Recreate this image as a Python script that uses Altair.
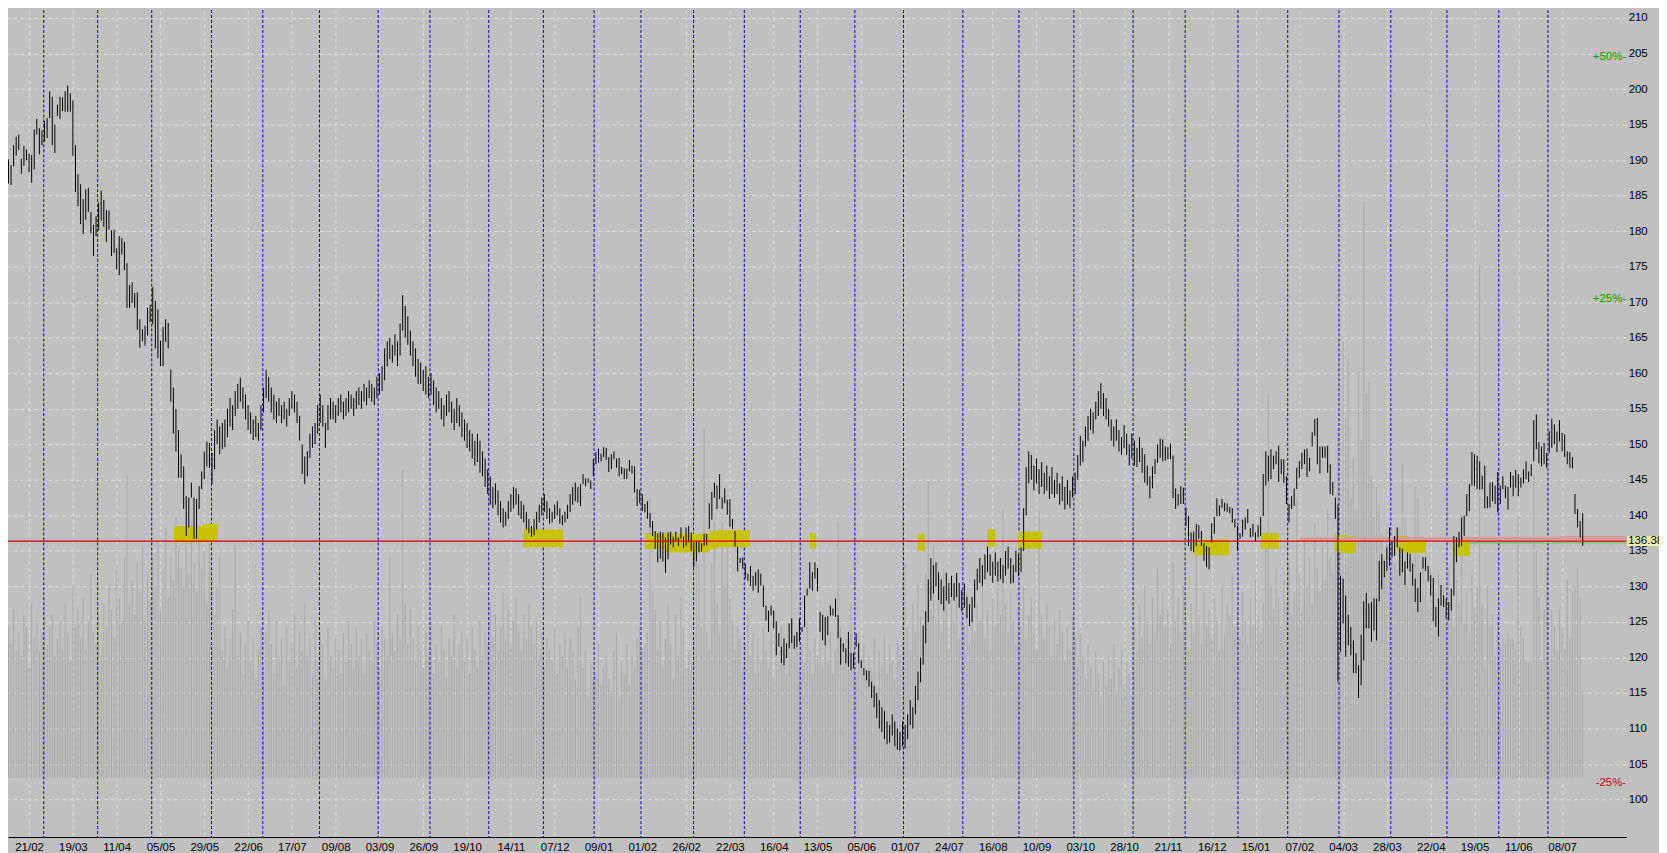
import altair as alt
import pandas as pd

# ---------------- data ----------------
highs = [
    191.0,191.0,190.8,190.1,189.3,192.1,193.3,193.6,190.2,192.0,
    191.5,190.9,190.7,194.3,195.8,194.5,194.2,195.5,195.9,199.7,
    198.9,195.0,197.8,198.9,198.8,199.7,200.5,199.4,198.4,192.1,
    188.0,186.6,184.5,185.9,186.1,182.7,180.9,182.1,184.0,185.7,
    184.4,183.0,182.9,180.1,180.2,177.6,179.3,179.0,178.5,175.5,
    172.4,172.8,171.3,171.4,167.6,166.2,166.7,169.2,169.6,172.1,
    170.2,169.0,164.6,166.5,167.6,167.1,160.5,158.0,155.0,152.0,
    148.6,146.9,142.7,142.5,144.6,142.5,142.3,144.1,146.2,149.0,
    150.4,150.2,148.8,152.0,153.5,152.5,153.0,153.5,155.0,156.5,
    155.5,157.5,158.5,159.4,158.0,157.0,155.5,154.5,153.5,154.0,
    153.0,155.5,158.0,160.5,159.5,158.0,157.0,156.0,156.5,155.5,
    156.0,155.0,156.5,157.5,157.0,156.0,154.0,150.0,148.3,149.0,
    151.5,152.5,153.0,155.5,157.0,155.5,153.0,155.5,156.5,156.0,
    155.5,156.5,157.0,156.0,156.5,157.5,157.0,156.5,157.5,158.0,
    157.5,158.5,158.0,159.0,158.5,158.0,159.5,160.0,161.0,163.5,
    164.5,165.0,164.0,165.5,164.5,167.0,171.0,169.5,168.0,166.0,
    164.5,163.5,162.0,161.5,160.5,161.0,159.5,160.0,159.0,158.0,
    157.5,156.5,155.5,157.0,157.5,156.0,155.0,156.5,155.5,154.5,
    153.5,153.0,152.0,151.5,150.5,151.5,150.5,149.0,148.0,146.5,
    145.5,144.0,144.5,143.5,142.0,141.0,140.5,142.0,143.0,144.0,
    143.8,143.0,142.0,141.5,140.5,139.5,138.5,139.5,140.5,141.5,
    142.5,143.0,142.0,141.0,140.5,141.5,142.0,141.0,140.0,140.5,
    141.5,143.0,144.0,144.6,144.0,144.4,145.8,145.2,145.2,144.9,
    147.9,148.9,149.4,148.7,149.6,149.5,148.2,148.6,149.0,148.0,
    148.1,146.8,146.6,146.6,147.8,147.0,146.9,143.7,143.6,143.0,
    141.6,142.0,140.3,139.2,137.8,137.5,137.7,137.6,136.9,137.6,
    137.7,137.0,137.7,136.9,138.3,137.0,138.3,138.5,137.6,136.2,
    136.4,136.4,136.1,137.4,137.4,141.7,143.3,144.6,144.2,145.8,
    142.5,143.8,142.2,142.3,139.5,137.8,135.6,134.0,134.1,133.2,
    131.8,132.9,131.5,132.0,132.4,131.8,130.1,127.3,126.6,127.3,
    126.6,125.1,123.4,121.5,122.7,122.0,124.8,125.5,123.1,123.6,
    125.5,124.3,128.7,129.7,133.4,132.0,133.4,132.6,126.4,126.0,
    125.7,125.8,127.3,126.9,128.3,126.0,122.8,122.0,121.3,123.6,
    120.6,120.6,123.4,122.0,119.6,118.5,118.2,118.1,116.6,116.0,
    115.0,114.0,113.0,112.5,111.0,110.5,112.0,111.0,110.0,109.5,
    111.0,110.5,112.0,114.0,113.0,116.0,118.0,120.0,124.5,126.5,
    131.0,134.0,133.0,133.4,132.0,131.0,130.0,131.9,130.5,131.5,
    130.5,131.9,130.5,129.5,130.4,128.5,127.5,128.5,131.0,132.5,
    134.0,133.0,134.5,135.6,134.5,133.5,134.8,133.5,134.0,133.0,
    135.0,135.6,134.0,133.0,135.0,134.5,135.5,141.0,146.8,149.0,
    148.5,147.0,148.0,146.5,147.5,146.0,147.0,145.5,146.8,145.0,
    146.0,144.5,145.5,144.0,145.0,143.5,145.5,146.0,148.5,151.2,
    150.5,152.5,154.0,155.0,154.5,156.0,157.5,158.6,157.2,156.5,
    155.0,153.5,152.5,153.5,152.0,151.0,152.7,151.5,150.0,151.5,
    150.5,149.5,151.0,149.5,
    148.6,147.0,145.5,146.9,147.9,150.0,150.8,150.7,149.7,149.6,
    150.1,148.4,143.8,143.0,144.1,143.9,141.1,139.9,137.6,137.7,
    138.8,138.6,137.8,136.1,135.7,135.5,138.9,139.8,142.4,141.4,
    142.3,141.8,141.7,141.2,141.0,139.5,138.5,137.5,139.4,139.7,
    140.9,138.2,138.8,137.6,138.6,139.8,145.8,149.0,148.4,149.3,
    148.4,149.0,149.8,147.9,147.9,145.5,141.6,142.7,143.8,146.7,
    147.6,148.8,149.3,149.4,148.1,151.7,153.6,153.7,149.7,149.7,
    149.7,149.8,147.2,144.7,142.5,141.5,131.5,131.1,128.7,126.0,
    124.3,122.4,120.6,118.9,123.2,127.9,129.1,127.6,127.8,128.3,
    128.3,133.6,134.6,133.6,135.5,138.3,136.4,137.1,138.3,135.5,
    135.3,133.5,134.8,134.6,133.2,131.1,129.8,132.0,134.1,134.1,
    132.9,131.6,131.2,127.1,128.3,130.2,128.7,128.3,127.8,129.7,
    137.1,136.9,137.7,139.7,140.0,143.0,144.4,148.9,148.6,148.4,
    147.6,
    145.6,147.0,142.7,144.6,144.7,144.2,146.1,144.2,145.5,144.2,
    144.0,146.1,145.6,146.4,145.8,145.3,146.5,147.6,146.2,147.2,
    153.4,154.2,150.3,149.7,150.2,148.8,151.9,153.6,152.8,151.8,
    153.4,151.6,151.4,149.0,148.9,148.2,143.0,140.9,139.2,140.3,
]

lows = [
    188.5,187.6,187.3,186.7,186.5,189.1,190.6,191.4,188.1,189.2,
    190.0,188.3,186.8,188.7,193.6,190.8,192.1,192.6,193.1,195.9,
    192.1,191.0,196.2,195.8,196.9,196.8,196.8,196.8,190.6,185.5,
    183.5,181.0,179.6,181.6,182.7,179.7,176.5,179.3,180.1,181.5,
    180.6,178.5,180.2,176.5,176.9,174.6,173.8,176.7,174.5,169.2,
    169.2,169.9,169.2,166.1,163.6,164.5,163.9,165.3,167.2,166.9,
    163.5,162.1,161.0,161.0,164.4,163.5,156.0,151.5,149.0,145.3,
    145.3,140.9,137.1,138.3,142.5,136.7,136.7,140.9,143.7,145.1,
    146.9,146.7,144.4,146.5,150.0,148.6,149.3,149.6,151.0,152.5,
    152.0,154.0,155.0,156.0,155.0,153.5,152.0,151.5,150.6,151.0,
    150.5,152.0,154.5,156.5,156.0,154.5,153.5,153.0,154.0,153.0,
    153.5,152.5,154.0,155.0,154.5,153.0,150.5,145.8,144.4,145.5,
    148.1,149.5,150.0,151.5,153.0,152.5,149.5,152.0,153.5,153.5,
    153.0,154.0,154.5,153.5,154.0,154.5,155.0,154.0,155.0,155.5,
    155.0,156.0,155.5,156.5,156.0,155.5,156.5,157.0,157.5,159.0,
    161.0,162.0,161.5,162.5,161.0,162.5,166.0,165.0,164.0,162.5,
    161.0,159.5,158.5,158.5,157.5,157.0,156.5,157.0,155.5,154.5,
    155.0,153.5,152.5,154.0,154.5,153.0,152.0,153.0,152.5,151.0,
    150.5,149.5,149.0,148.0,147.0,147.5,146.0,145.5,144.0,143.0,
    141.5,141.0,141.5,140.0,139.0,138.3,138.5,139.5,140.5,141.0,
    141.5,140.0,139.5,139.0,138.0,137.5,137.0,137.2,138.0,139.0,
    140.0,140.5,139.5,138.8,139.0,139.5,140.0,138.8,138.6,139.0,
    139.5,140.5,141.5,142.0,141.8,141.3,144.4,144.1,144.6,143.7,
    145.5,147.2,147.4,147.6,148.2,147.8,146.1,146.5,147.9,146.7,
    145.5,145.8,145.1,145.1,146.2,145.9,143.2,141.3,141.7,140.6,
    140.4,139.5,138.3,137.1,135.3,133.4,133.9,133.5,131.9,133.8,
    135.9,135.5,136.3,135.7,136.7,135.4,135.7,136.2,135.0,132.7,
    133.5,134.8,134.9,135.7,135.8,138.1,139.4,142.5,140.9,142.3,
    140.9,141.7,140.1,138.4,138.1,135.6,132.1,133.3,132.5,131.1,
    130.8,130.1,129.4,130.1,129.1,130.1,127.1,125.2,123.6,125.9,
    124.1,120.3,121.5,119.2,118.9,119.9,121.3,122.0,121.2,121.5,
    122.2,123.6,124.3,128.7,129.7,129.4,131.1,129.3,123.6,122.4,
    121.7,123.1,125.9,125.9,125.7,122.7,119.0,120.8,119.2,118.7,
    118.2,118.5,121.5,119.2,118.5,117.5,116.8,115.9,114.3,113.0,
    111.5,110.0,109.5,108.5,107.8,108.0,109.0,107.5,107.0,106.9,
    107.5,107.2,108.5,110.5,110.0,112.0,114.0,116.5,119.0,122.0,
    125.0,128.0,129.0,130.0,128.1,127.5,126.6,128.0,127.5,128.5,
    128.0,128.5,127.0,126.5,127.0,125.5,124.4,125.0,127.0,129.5,
    130.5,130.0,131.0,132.0,131.5,130.5,131.5,130.7,131.0,130.5,
    131.5,132.5,130.4,130.5,132.0,131.5,132.0,135.0,140.0,144.5,
    145.0,143.5,144.5,143.0,144.0,143.0,143.5,142.3,143.0,142.5,
    143.0,141.5,142.0,140.8,141.5,141.0,142.5,143.0,145.0,147.0,
    147.5,149.7,150.5,152.0,151.5,153.5,154.0,155.0,154.0,153.5,
    152.5,150.5,149.7,150.5,149.0,148.5,149.5,148.5,147.0,148.0,
    147.0,146.8,147.5,146.0,
    144.6,144.2,142.4,143.8,145.8,147.4,148.1,147.6,147.7,147.9,
    147.9,142.4,140.9,141.4,141.6,141.6,138.5,135.7,135.0,134.8,
    135.7,136.7,135.7,133.6,132.7,132.4,136.2,137.4,139.9,139.9,
    141.1,140.6,140.5,140.3,139.0,138.3,135.0,136.7,137.0,138.0,
    138.9,136.9,137.0,136.3,136.9,137.1,139.9,144.2,144.8,145.1,
    146.5,147.2,144.7,145.8,144.6,141.6,139.0,140.9,141.3,143.7,
    145.3,146.5,147.2,145.4,146.2,149.7,151.2,147.2,145.9,148.1,
    148.1,146.0,143.0,142.8,139.5,116.6,120.8,124.8,120.1,121.7,
    120.3,117.8,117.8,114.3,116.1,119.6,124.1,124.1,122.2,123.8,
    122.4,127.9,129.6,131.3,132.2,132.9,134.1,134.3,135.5,131.5,
    132.0,130.2,132.5,132.1,130.1,127.8,126.4,127.8,132.5,132.2,
    130.7,128.7,125.1,124.3,122.9,127.3,127.1,125.5,125.2,126.6,
    128.7,133.4,135.5,135.7,137.1,139.9,140.6,144.2,144.1,143.7,
    143.6,
    143.7,141.0,141.0,141.1,142.0,141.6,140.4,141.6,143.7,142.4,
    140.8,143.9,142.7,143.9,142.7,143.9,144.5,145.1,144.7,145.5,
    147.6,149.3,147.3,146.9,147.2,146.7,148.8,149.5,150.0,148.9,
    150.4,149.0,148.2,147.2,146.7,146.6,140.2,138.3,136.9,135.7,
]

volumes = [
    24,27,20,26,23,29,22,25,21,28,26,19,30,24,27,22,25,31,23,26,
    28,21,24,27,22,30,25,20,33,26,29,24,31,22,27,35,25,23,28,21,
    30,26,33,29,24,36,31,27,38,52,30,34,28,37,32,40,27,35,30,38,
    33,41,29,36,43,31,38,34,45,39,36,33,40,35,44,37,32,42,36,39,
    30,41,34,28,33,38,22,26,19,24,29,40,21,25,18,23,27,20,24,17,
    22,26,19,25,29,23,18,27,21,24,16,26,20,23,28,19,25,22,30,21,
    24,18,27,20,25,23,17,26,21,19,24,22,18,25,20,27,23,19,26,21,
    24,18,25,22,20,27,23,19,26,24,21,38,25,22,28,24,53,30,23,29,
    24,20,26,22,19,25,21,27,18,23,20,26,22,17,24,21,28,19,23,25,
    20,24,18,26,22,19,27,21,25,23,30,24,28,22,26,32,24,29,23,27,
    31,25,22,28,24,30,26,23,27,21,25,19,24,22,20,26,18,23,21,25,
    19,24,22,17,26,31,19,22,14,20,17,18,23,16,19,21,17,15,22,25,
    14,20,18,23,16,21,19,24,26,22,23,25,48,32,29,22,27,19,24,30,
    23,17,28,21,31,26,19,22,20,24,37,37,26,60,25,22,37,44,30,25,
    44,33,42,31,27,22,26,24,19,23,28,21,25,18,24,20,26,22,19,25,
    17,23,20,26,22,18,24,41,21,25,19,23,20,27,22,18,24,21,26,19,
    23,20,25,18,22,44,26,21,24,19,30,22,18,25,20,23,17,21,19,24,
    16,22,19,25,18,23,20,17,24,21,52,37,26,22,30,25,33,28,24,35,
    51,29,40,27,33,25,36,30,22,31,27,34,24,29,26,32,23,28,25,30,
    27,33,24,29,22,31,26,35,28,46,30,25,32,27,23,29,26,33,24,28,
    31,25,22,46,28,24,30,26,21,27,23,29,25,20,26,22,28,24,19,25,
    21,17,23,19,15,22,18,14,20,16,21,17,23,15,19,22,16,20,18,14,
    26,22,30,24,33,27,23,31,25,36,28,32,26,29,23,37,27,31,25,33,
    27,22,30,25,41,28,23,32,26,29,24,31,27,22,33,25,30,28,35,26,
    29,24,32,27,23,31,26,34,28,25,30,42,66,33,29,36,31,26,34,30,
    37,28,32,48,35,29,41,33,38,30,44,36,32,40,34,46,38,35,42,60,
    40,75,62,72,48,55,46,70,58,99,66,68,52,45,50,47,42,38,44,41,
    40,37,36,43,54,45,33,41,37,50,48,31,38,34,29,36,32,27,35,30,
    33,28,36,31,26,34,30,38,27,32,25,35,29,33,88,30,19,33,26,28,
    21,28,23,24,23,25,24,24,22,45,26,24,20,20,20,52,39,31,20,29,
    36,19,29,26,22,29,26,22,34,24,32,33,36,31,15,
]

date_labels = ["21/02", "19/03", "11/04", "05/05", "29/05", "22/06", "17/07", "09/08",
               "03/09", "26/09", "19/10", "14/11", "07/12", "09/01", "01/02", "26/02",
               "22/03", "16/04", "13/05", "05/06", "01/07", "24/07", "16/08", "10/09",
               "03/10", "28/10", "21/11", "16/12", "15/01", "07/02", "04/03", "28/03",
               "22/04", "19/05", "11/06", "08/07"]
label_bars = [11, 28, 45, 62, 79, 96, 113, 130, 147, 164, 181, 198, 215, 232, 249, 266,
              283, 300, 317, 334, 351, 368, 385, 402, 419, 436, 453, 470, 487, 504, 521,
              538, 555, 572, 589, 606]
month_bars = [16.7, 37.6, 58.6, 81.8, 101.7, 123.7, 146.5, 166.6, 189.4, 210.6, 230.3,
              248.5, 268.9, 288.6, 310.3, 331.5, 350.4, 373.4, 395.2, 416.5, 439.5, 459.7,
              480.2, 499.5, 519.4, 539.5, 561.3, 581.4, 600.5]
price_ticks = list(range(100, 211, 5))
support_price = 136.38

# highlighted support zones: start bar, end bar, top price, bottom price
zone_start = [67.3, 78.5, 202.9, 250.0, 258.5, 274.8, 277.8, 314.1, 355.9, 382.9, 394.8,
              463.2, 489.1, 517.7, 520.4, 542.4, 545.9, 563.7]
zone_end = [79.7, 84.3, 218.3, 258.5, 275.1, 277.8, 290.6, 316.5, 358.6, 386.0, 404.2,
            476.8, 496.1, 522.7, 525.8, 545.9, 553.2, 570.2]
zone_top = [138.5, 138.8, 138.0, 137.5, 137.4, 137.8, 137.9, 137.5, 137.4, 138.0, 137.7,
            136.6, 137.5, 137.2, 137.1, 137.1, 136.9, 136.6]
zone_bottom = [136.2, 136.4, 135.5, 135.3, 134.8, 135.3, 135.5, 135.3, 135.0, 135.6, 135.3,
               134.4, 135.3, 135.0, 134.7, 134.8, 134.7, 134.3]

pct_levels = [50, 25, -25]
pink_start = [504.2, 605.0]
pink_top = [136.95, 137.1]
pink_bottom = [136.55, 136.55]
green_start = [570.2]
green_price = [136.15]

# ---------------- frames ----------------
n = min(len(highs), len(lows), len(volumes))
bars_df = pd.DataFrame({"bar": list(range(n)), "high": highs[:n], "low": lows[:n],
                        "volume": volumes[:n]})
month_df = pd.DataFrame({"m": month_bars})
zones_df = pd.DataFrame({"s": zone_start, "e": zone_end, "top": zone_top, "bot": zone_bottom})
pink_df = pd.DataFrame({"s": pink_start, "top": pink_top, "bot": pink_bottom})
green_df = pd.DataFrame({"s": green_start, "p": green_price})
support_df = pd.DataFrame({"p": [support_price]})
pct_df = pd.DataFrame({
    "pct": pct_levels,
    "level": [support_price * (1 + p / 100.0) for p in pct_levels],
    "label": [("+%d%%-" % p) if p > 0 else ("%d%%-" % p) for p in pct_levels],
    "kind": ["up" if p > 0 else "down" for p in pct_levels],
})

# ---------------- layout ----------------
W, H = 1626, 831
FONT = "Liberation Sans"
VOL_BASE = 103.0     # price level where the volume pane starts
VOL_UNIT = 0.82      # price units per volume unit in the volume pane
xscale = alt.Scale(domain=[2.82, 630.86], nice=False, zero=False)
yscale = alt.Scale(domain=[94.73, 211.12], nice=False, zero=False)

labels_js = "[" + ",".join("'%s'" % d for d in date_labels) + "]"
vals_js = "[" + ",".join(str(v) for v in label_bars) + "]"
x_axis = alt.Axis(values=label_bars,
                  labelExpr="%s[indexof(%s, datum.value)]" % (labels_js, vals_js),
                  orient="bottom", grid=True, gridColor="#d8d8d8", gridDash=[4, 3],
                  gridWidth=1, ticks=False, domain=True, domainColor="#000000",
                  domainWidth=1.2, labelPadding=5, labelFontSize=11.5, labelFont=FONT,
                  labelColor="#000000", labelOverlap=False, labelFlush=False, title=None)
y_axis = alt.Axis(values=price_ticks, orient="right", grid=True, gridColor="#d8d8d8",
                  gridDash=[4, 3], gridWidth=1, ticks=False, domain=False, labelPadding=2,
                  labelFontSize=11.5, labelFont=FONT, labelColor="#000000", title=None)


def X(field):
    return alt.X(field, scale=xscale, axis=x_axis)


def Y(field):
    return alt.Y(field, scale=yscale, axis=y_axis)


base_bars = alt.Chart(bars_df)

volume_layer = base_bars.transform_calculate(
    vtop="%f + datum.volume * %f" % (VOL_BASE, VOL_UNIT)
).mark_rule(color="#a9a9a9", strokeWidth=1).encode(
    x=X("bar:Q"), y=Y("vtop:Q"), y2=alt.datum(VOL_BASE),
)

month_lines = alt.Chart(month_df).mark_rule(
    color="#0000b0", strokeDash=[3, 2], strokeWidth=1
).encode(x=X("m:Q"))

zones = alt.Chart(zones_df).mark_rect(color="#c8c200").encode(
    x=X("s:Q"), x2="e:Q", y=Y("top:Q"), y2="bot:Q",
)
pink = alt.Chart(pink_df).mark_rect(color="#d49c9c").encode(
    x=X("s:Q"), x2=alt.value(W), y=Y("top:Q"), y2="bot:Q",
)
green = alt.Chart(green_df).mark_rule(color="#7cc47c", strokeWidth=1.5).encode(
    x=X("s:Q"), x2=alt.value(W), y=Y("p:Q"),
)
price_bars = base_bars.mark_rule(color="#000000", strokeWidth=1.0).encode(
    x=X("bar:Q"), y=Y("high:Q"), y2="low:Q",
)
red_line = alt.Chart(support_df).mark_rule(color="#e00000", strokeWidth=1.3).encode(
    y=Y("p:Q"),
)
tag_rect = alt.Chart(support_df).transform_calculate(
    top="datum.p + 0.7", bot="datum.p - 0.7"
).mark_rect(color="#eeeea6", clip=False).encode(
    x=alt.value(W + 1), x2=alt.value(W + 50), y=Y("top:Q"), y2="bot:Q",
)
tag_text = alt.Chart(support_df).mark_text(
    align="left", baseline="middle", fontSize=11.5, font=FONT, color="#000000"
).encode(
    x=alt.value(W + 2), y=Y("p:Q"), text=alt.Text("p:Q", format=".2f"),
)
pct_text = alt.Chart(pct_df).mark_text(
    align="right", baseline="middle", fontSize=11.5, font=FONT
).encode(
    x=alt.value(W), y=Y("level:Q"), text="label:N",
    color=alt.Color("kind:N", scale=alt.Scale(domain=["up", "down"],
                                               range=["#00a000", "#e00000"]), legend=None),
)

chart = alt.layer(
    volume_layer, month_lines, zones, pink, green, price_bars, red_line,
    tag_rect, tag_text, pct_text
).properties(
    width=W, height=H, background="#c0c0c0",
    padding={"left": 0, "top": 0, "right": 33, "bottom": 14},
    autosize=alt.AutoSizeParams(type="none"),
).configure_view(stroke=None)

chart.save("out.html", embed_options={"renderer": "svg", "actions": False})
